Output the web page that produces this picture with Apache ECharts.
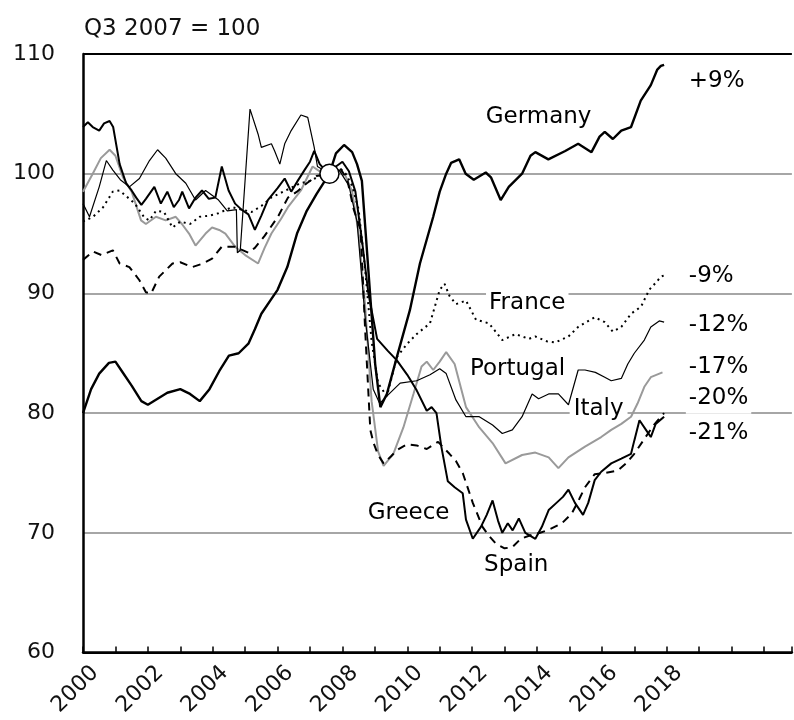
<!DOCTYPE html>
<html>
<head>
<meta charset="utf-8">
<script src="https://cdn.jsdelivr.net/npm/echarts@6/dist/echarts.min.js"></script>
<style>html,body{margin:0;padding:0;background:#fff;}#chart{width:794px;height:720px;}</style>
</head>
<body>
<div id="chart"></div>
<script>
// ---- data: [year, index (Q3 2007 = 100)] ----
const germany = [[2000.0,80.0],[2000.25,82.0],[2000.5,83.3],[2000.8,84.2],[2001.0,84.3],[2001.2,83.5],[2001.5,82.3],[2001.8,81.0],[2002.0,80.7],[2002.3,81.2],[2002.6,81.7],[2003.0,82.0],[2003.3,81.6],[2003.6,81.0],[2003.9,82.0],[2004.2,83.5],[2004.5,84.8],[2004.8,85.0],[2005.1,85.8],[2005.3,87.0],[2005.5,88.3],[2005.8,89.5],[2006.0,90.3],[2006.3,92.2],[2006.6,95.0],[2006.9,96.9],[2007.2,98.3],[2007.6,100.0],[2007.8,101.7],[2008.05,102.4],[2008.3,101.8],[2008.45,100.8],[2008.6,99.4],[2008.71,95.3],[2008.86,89.7],[2009.01,84.1],[2009.17,80.5],[2009.37,81.6],[2009.68,84.7],[2010.08,88.6],[2010.39,92.5],[2010.8,96.4],[2011.0,98.5],[2011.2,100.0],[2011.35,100.9],[2011.6,101.2],[2011.8,100.0],[2012.05,99.5],[2012.42,100.1],[2012.58,99.7],[2012.88,97.8],[2013.13,98.9],[2013.54,100.0],[2013.8,101.5],[2013.95,101.8],[2014.35,101.2],[2014.87,101.9],[2015.27,102.5],[2015.68,101.8],[2015.93,103.1],[2016.09,103.5],[2016.34,102.9],[2016.6,103.6],[2016.9,103.9],[2017.2,106.1],[2017.51,107.4],[2017.71,108.7],[2017.82,109.0],[2017.92,109.1]];
const greece = [[2000.0,103.9],[2000.15,104.3],[2000.3,103.9],[2000.5,103.6],[2000.65,104.2],[2000.82,104.4],[2000.93,103.9],[2001.13,100.8],[2001.33,99.2],[2001.5,98.6],[2001.64,98.0],[2001.8,97.4],[2001.94,97.9],[2002.2,98.9],[2002.4,97.5],[2002.6,98.5],[2002.8,97.2],[2002.96,97.8],[2003.06,98.5],[2003.27,97.1],[2003.47,98.0],[2003.67,98.6],[2003.88,97.9],[2004.08,98.0],[2004.28,100.6],[2004.49,98.6],[2004.69,97.5],[2004.89,97.0],[2005.1,96.6],[2005.3,95.3],[2005.5,96.5],[2005.7,97.8],[2006.0,98.8],[2006.22,99.6],[2006.42,98.5],[2006.62,99.4],[2006.83,100.3],[2007.0,101.0],[2007.13,101.9],[2007.3,100.8],[2007.5,100.2],[2007.8,100.6],[2008.0,101.0],[2008.2,100.2],[2008.4,98.5],[2008.6,94.5],[2008.8,90.0],[2009.07,86.2],[2009.4,85.2],[2009.68,84.4],[2010.0,83.2],[2010.29,81.9],[2010.6,80.2],[2010.75,80.5],[2010.9,80.0],[2011.05,77.2],[2011.25,74.3],[2011.46,73.8],[2011.71,73.3],[2011.81,71.1],[2012.02,69.5],[2012.27,70.5],[2012.45,71.5],[2012.63,72.7],[2012.8,71.0],[2012.93,70.0],[2013.1,70.8],[2013.25,70.2],[2013.44,71.2],[2013.64,70.0],[2013.95,69.5],[2014.15,70.5],[2014.36,71.9],[2014.6,72.5],[2014.8,73.0],[2014.97,73.6],[2015.17,72.5],[2015.42,71.5],[2015.58,72.5],[2015.78,74.4],[2015.98,75.1],[2016.29,75.8],[2016.6,76.2],[2016.9,76.6],[2017.0,77.7],[2017.16,79.4],[2017.36,78.6],[2017.51,78.0],[2017.66,79.1],[2017.92,79.7]];
const spain = [[2000.0,92.8],[2000.31,93.5],[2000.57,93.2],[2000.92,93.6],[2001.13,92.5],[2001.43,92.2],[2001.74,91.1],[2001.94,90.1],[2002.1,90.0],[2002.35,91.4],[2002.76,92.5],[2003.0,92.6],[2003.37,92.2],[2003.7,92.5],[2003.98,92.9],[2004.28,93.9],[2004.69,93.9],[2005.1,93.4],[2005.3,93.8],[2005.6,94.8],[2006.01,96.4],[2006.32,98.0],[2006.6,98.5],[2006.9,99.2],[2007.2,99.8],[2007.6,100.0],[2007.9,100.6],[2008.15,99.5],[2008.35,97.0],[2008.56,95.3],[2008.7,87.0],[2008.86,78.6],[2008.96,77.5],[2009.1,76.5],[2009.27,75.8],[2009.5,76.4],[2009.68,76.9],[2010.0,77.4],[2010.29,77.3],[2010.6,77.0],[2010.95,77.6],[2011.3,76.6],[2011.5,76.0],[2011.71,75.0],[2012.02,72.5],[2012.32,70.5],[2012.5,69.8],[2012.73,69.1],[2013.0,68.7],[2013.24,68.8],[2013.5,69.5],[2013.8,69.8],[2014.1,70.0],[2014.4,70.3],[2014.77,70.8],[2015.07,71.6],[2015.3,72.8],[2015.48,73.8],[2015.78,74.9],[2016.1,75.0],[2016.49,75.2],[2016.75,75.8],[2017.0,76.6],[2017.3,77.8],[2017.6,79.0],[2017.92,80.0]];
const france = [[2000.0,96.0],[2000.31,96.4],[2000.62,97.2],[2000.92,98.5],[2001.13,98.6],[2001.3,98.2],[2001.6,97.5],[2001.9,96.3],[2002.05,96.1],[2002.25,96.9],[2002.5,96.8],[2002.76,95.5],[2003.0,96.0],[2003.3,95.8],[2003.6,96.4],[2003.9,96.5],[2004.18,96.7],[2004.59,97.2],[2004.9,97.0],[2005.2,96.8],[2005.5,97.3],[2005.8,98.0],[2006.1,98.4],[2006.4,98.8],[2006.7,99.2],[2007.0,99.4],[2007.3,99.8],[2007.6,100.0],[2007.9,100.5],[2008.1,100.0],[2008.3,99.0],[2008.5,97.0],[2008.7,92.0],[2008.9,86.0],[2009.1,82.5],[2009.37,81.4],[2009.68,84.7],[2010.0,85.8],[2010.29,86.6],[2010.7,87.5],[2011.0,90.3],[2011.15,90.8],[2011.3,89.8],[2011.5,89.1],[2011.81,89.4],[2012.12,87.8],[2012.52,87.5],[2012.93,86.1],[2013.34,86.6],[2013.75,86.2],[2013.95,86.4],[2014.3,86.0],[2014.56,85.9],[2014.97,86.4],[2015.27,87.2],[2015.78,88.0],[2016.09,87.6],[2016.34,86.8],[2016.6,87.2],[2016.9,88.3],[2017.21,88.9],[2017.46,90.3],[2017.7,91.0],[2017.82,91.4],[2017.92,91.5]];
const portugal = [[2000.0,97.5],[2000.2,96.4],[2000.5,98.9],[2000.72,101.1],[2000.92,100.3],[2001.15,99.5],[2001.43,98.9],[2001.74,99.6],[2002.05,101.1],[2002.3,102.0],[2002.55,101.3],[2002.86,100.0],[2003.17,99.2],[2003.47,97.8],[2003.78,98.6],[2004.18,97.8],[2004.45,96.9],[2004.73,97.0],[2004.76,93.4],[2004.85,93.6],[2005.15,105.4],[2005.4,103.3],[2005.5,102.2],[2005.81,102.5],[2005.91,101.9],[2006.07,100.8],[2006.22,102.5],[2006.42,103.6],[2006.72,104.9],[2006.93,104.7],[2007.13,102.2],[2007.23,100.6],[2007.6,100.0],[2007.9,100.3],[2008.2,99.0],[2008.45,96.0],[2008.7,88.0],[2008.95,82.0],[2009.15,80.8],[2009.4,81.5],[2009.78,82.5],[2010.29,82.7],[2010.7,83.2],[2011.0,83.7],[2011.2,83.3],[2011.5,81.1],[2011.81,79.7],[2012.22,79.7],[2012.63,79.0],[2012.93,78.3],[2013.24,78.6],[2013.54,79.7],[2013.85,81.6],[2014.05,81.2],[2014.36,81.6],[2014.66,81.6],[2014.97,80.7],[2015.27,83.6],[2015.48,83.6],[2015.8,83.4],[2016.09,83.0],[2016.29,82.7],[2016.6,82.9],[2016.8,84.1],[2017.0,85.0],[2017.31,86.1],[2017.51,87.2],[2017.77,87.7],[2017.92,87.6]];
const italy = [[2000.0,98.5],[2000.3,100.0],[2000.55,101.3],[2000.82,102.0],[2001.0,101.5],[2001.23,99.7],[2001.5,98.5],[2001.79,96.1],[2001.94,95.8],[2002.25,96.4],[2002.55,96.1],[2002.86,96.4],[2003.05,95.8],[2003.27,95.0],[2003.47,94.0],[2003.78,95.0],[2003.98,95.5],[2004.2,95.3],[2004.39,95.0],[2004.69,93.9],[2005.0,93.2],[2005.4,92.5],[2005.6,93.8],[2005.81,95.0],[2006.1,96.2],[2006.32,97.2],[2006.72,98.6],[2007.08,100.6],[2007.3,100.2],[2007.6,100.0],[2007.9,100.3],[2008.1,99.8],[2008.3,98.5],[2008.5,95.0],[2008.7,89.0],[2008.9,81.0],[2009.1,76.8],[2009.27,75.6],[2009.57,76.6],[2009.88,78.8],[2010.19,81.6],[2010.44,83.9],[2010.6,84.3],[2010.8,83.6],[2011.0,84.3],[2011.2,85.1],[2011.46,84.1],[2011.81,80.5],[2012.22,78.8],[2012.63,77.5],[2013.03,75.8],[2013.54,76.5],[2013.95,76.7],[2014.36,76.3],[2014.66,75.4],[2014.97,76.3],[2015.48,77.2],[2015.98,78.0],[2016.29,78.6],[2016.6,79.1],[2016.9,79.7],[2017.1,80.8],[2017.31,82.2],[2017.51,83.0],[2017.87,83.4]];
const basePoint = [[2007.6, 100]];
const yTicks = [60, 70, 80, 90, 100, 110];
const xLabelYears = [2000, 2002, 2004, 2006, 2008, 2010, 2012, 2014, 2016, 2018];
const titleText = 'Q3 2007 = 100';
const countryNames = ['Germany', 'France', 'Portugal', 'Italy', 'Greece', 'Spain'];
const changeTexts = ['+9%', '-9%', '-12%', '-17%', '-20%', '-21%'];

// ---- annotation placement (data coordinates) ----
const countryLabelPos = [[2014.05, 104.75], [2013.7, 89.22], [2013.4, 83.71], [2015.9, 80.38], [2010.04, 71.69], [2013.36, 67.27]];
const changeLabelPos = [[2018.59, 107.75], [2018.59, 91.48], [2018.59, 87.39], [2018.59, 83.88], [2018.59, 81.29], [2018.59, 78.37]];

const FONT = 'DejaVu Sans, Verdana, sans-serif';
const TXT = '#111';

const annotData = [];
countryNames.forEach((n, i) => {
  const pad = n === 'Italy' ? [4, 4] : [2, 3];
  annotData.push({ value: countryLabelPos[i], name: n, label: { formatter: n, align: 'center', padding: pad } });
});
changeTexts.forEach((t, i) => {
  const pad = t === '-20%' ? [2, 3, 7, 3] : [2, 3];
  annotData.push({ value: changeLabelPos[i], name: t, label: { formatter: t, align: 'left', padding: pad } });
});

function line(name, data, style, z) {
  return { name, type: 'line', data, showSymbol: false, symbol: 'none', z: z || 3,
    lineStyle: style, animation: false, emphasis: { disabled: true } };
}

const chart = echarts.init(document.getElementById('chart'), null, { renderer: 'canvas' });
chart.setOption({
  animation: false,
  backgroundColor: '#fff',
  title: { text: titleText, left: 79, top: 13,
    textStyle: { fontFamily: FONT, fontSize: 23, fontWeight: 'normal', color: TXT } },
  grid: { left: 83, right: -5, top: 54, bottom: 67.5, containLabel: false },
  xAxis: [
    { type: 'value', min: 2000, max: 2021.86, interval: 1,
      axisLine: { show: true, lineStyle: { color: '#000', width: 2.5 } },
      axisTick: { show: true, inside: true, length: 6, lineStyle: { color: '#000', width: 1.5 } },
      axisLabel: { show: false }, splitLine: { show: false } },
    { type: 'value', position: 'bottom', min: 1999.625, max: 2021.485, interval: 0.125,
      axisLine: { show: false }, axisTick: { show: false }, splitLine: { show: false },
      axisLabel: { show: true, rotate: 45, margin: 17, align: 'right', verticalAlign: 'middle',
        hideOverlap: false, fontFamily: FONT, fontSize: 22, color: TXT,
        formatter: v => { const r = Math.round(v); return (Math.abs(v - r) < 1e-6 && xLabelYears.includes(r)) ? String(r) : ''; } } }
  ],
  yAxis: { type: 'value', min: yTicks[0], max: yTicks[yTicks.length - 1], interval: 10,
    axisLine: { show: true, lineStyle: { color: '#000', width: 2.5 } },
    axisTick: { show: false },
    axisLabel: { margin: 28, fontFamily: FONT, fontSize: 22, color: TXT },
    splitLine: { show: true, lineStyle: { color: ['#000', '#a6a6a6', '#a6a6a6', '#a6a6a6', '#a6a6a6', '#000'], width: 2 } } },
  series: [
    { type: 'scatter', name: 'labels', data: annotData, symbol: 'circle', symbolSize: 0, z: 1,
      itemStyle: { color: '#000', opacity: 1 }, animation: false, silent: true,
      emphasis: { disabled: true },
      label: { show: true, position: 'inside', fontFamily: FONT, fontSize: 23, color: '#000', opacity: 1,
        textBorderWidth: 0, backgroundColor: '#fff', verticalAlign: 'middle' },
      labelLayout: { hideOverlap: false } },
    line('Italy', italy, { color: '#9a9a9a', width: 2 }),
    line('Portugal', portugal, { color: '#000', width: 1.2 }),
    line('France', france, { color: '#000', width: 2, type: [2, 4] }),
    line('Spain', spain, { color: '#000', width: 2, type: [8, 6] }),
    line('Greece', greece, { color: '#000', width: 2 }),
    line('Germany', germany, { color: '#000', width: 2.4 }),
    { type: 'scatter', name: 'base', data: basePoint, symbol: 'circle', symbolSize: 19, z: 10,
      itemStyle: { color: '#fff', borderColor: '#000', borderWidth: 1.5, opacity: 1 }, animation: false }
  ]
});
</script>
</body>
</html>
